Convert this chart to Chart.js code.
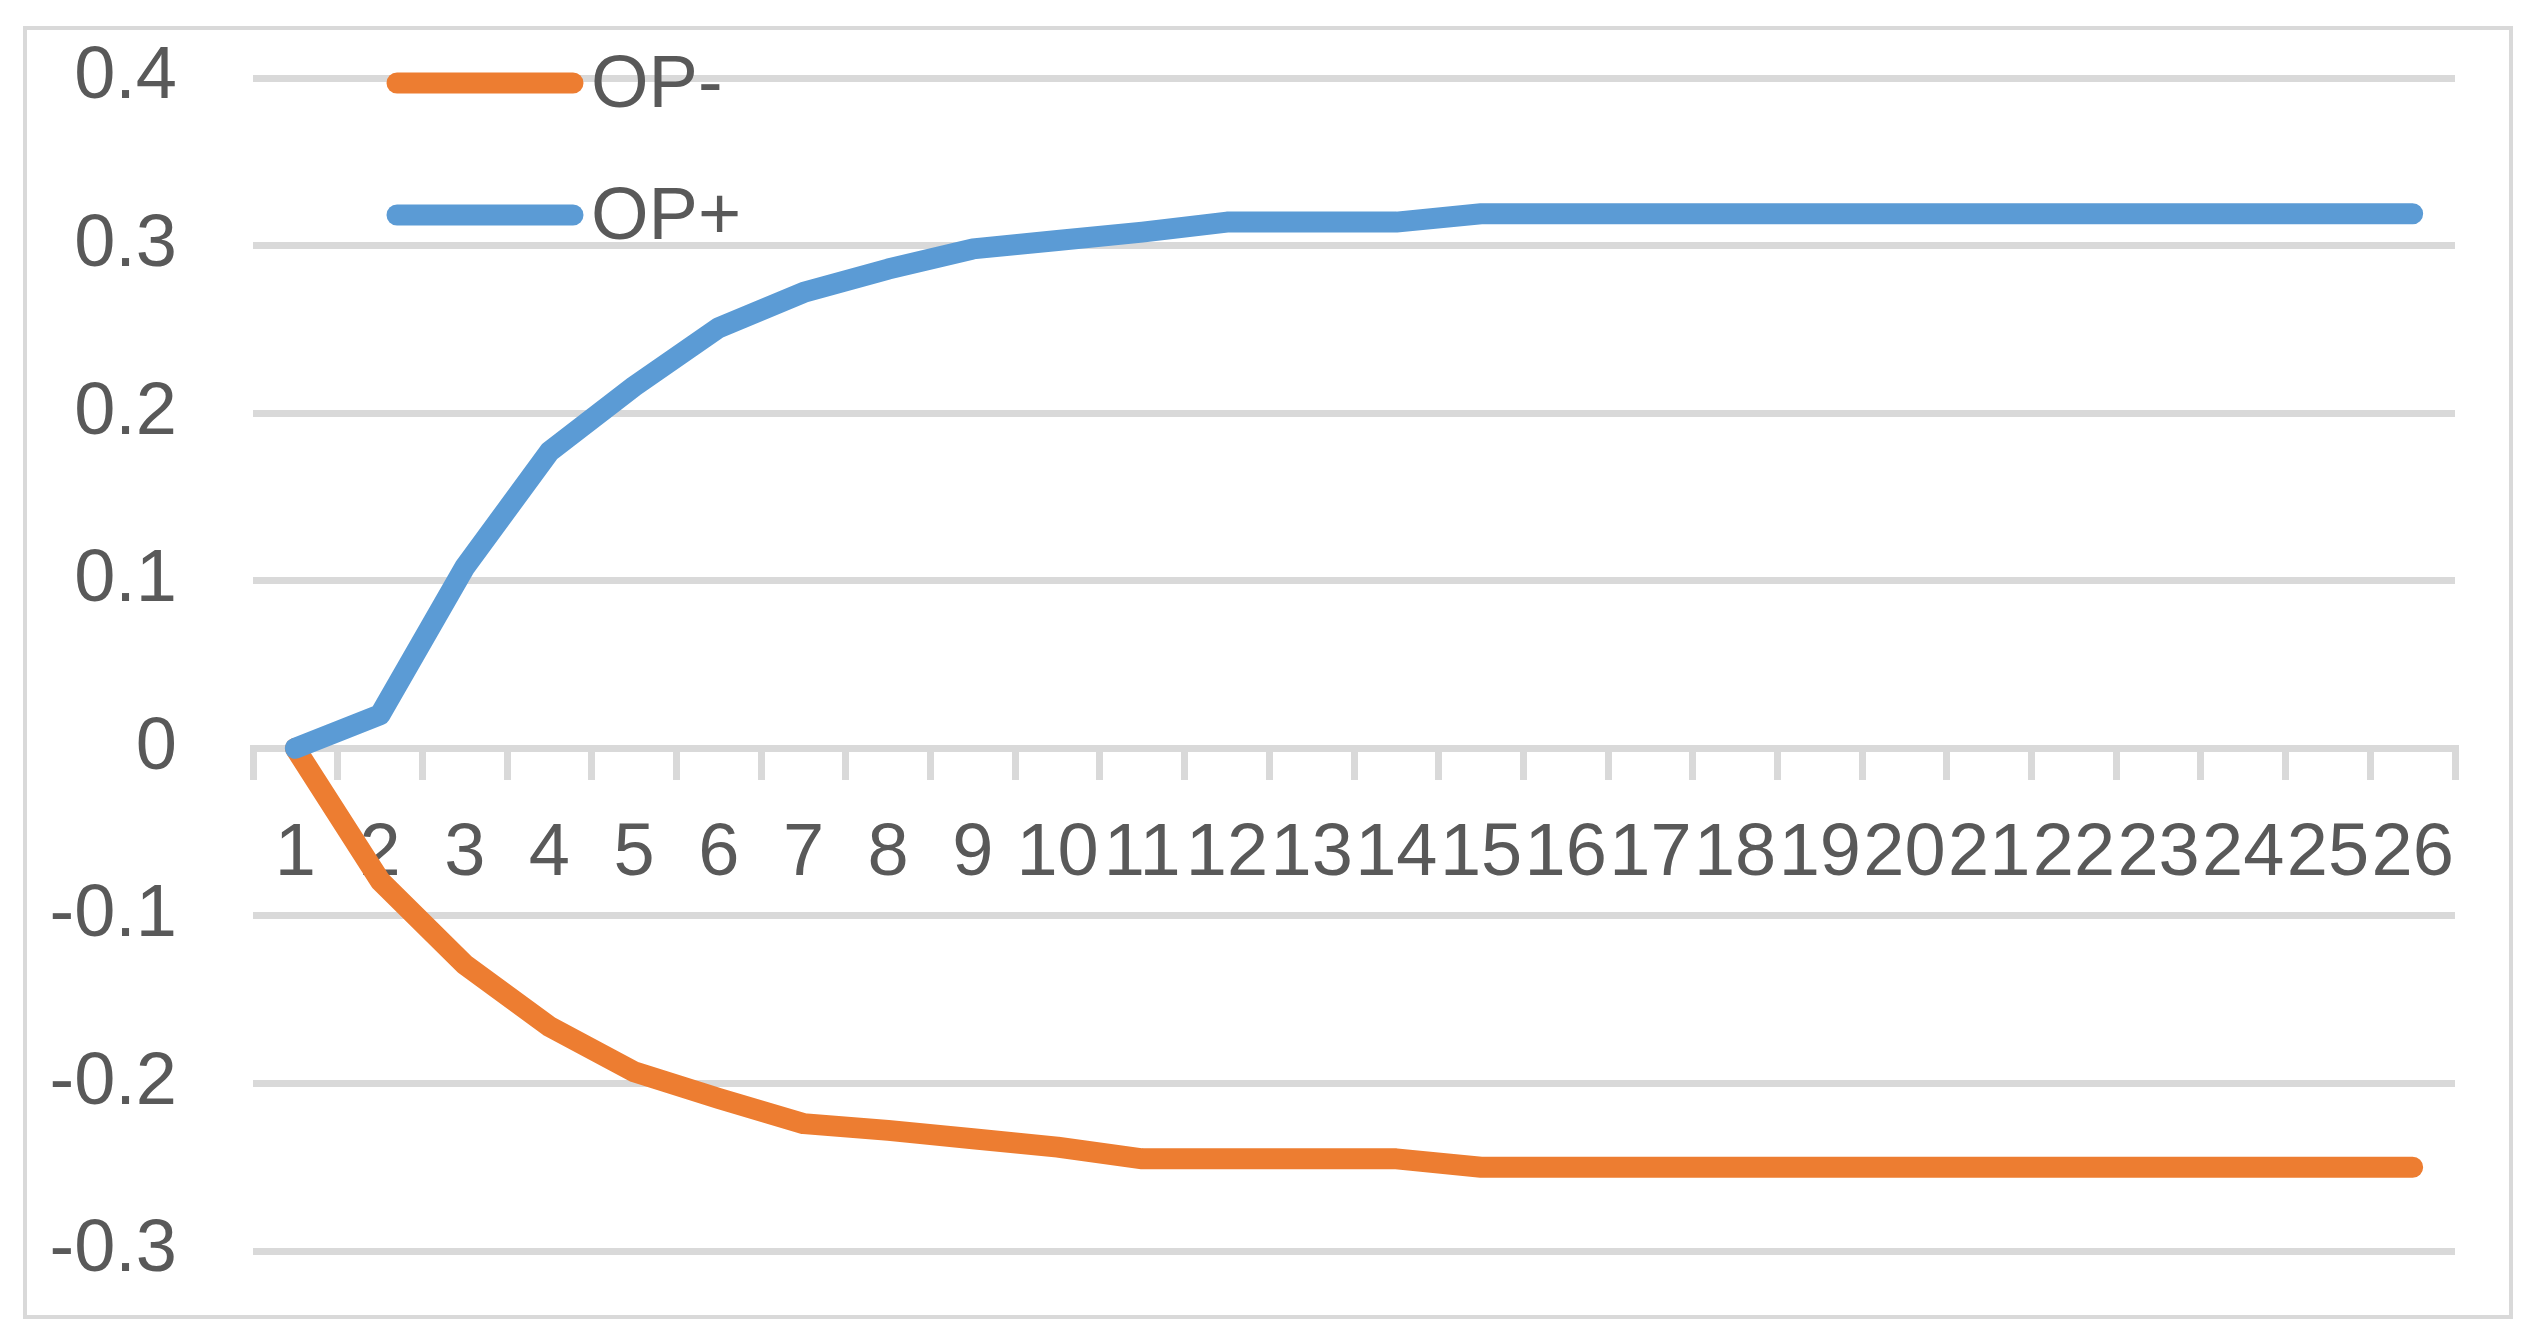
<!DOCTYPE html>
<html>
<head>
<meta charset="utf-8">
<script src="https://cdn.jsdelivr.net/npm/chart.js"></script>
<style>
  body { margin: 0; background: #fff; }
  #frame { position: absolute; left: 23px; top: 26px; width: 2490px; height: 1293px; box-sizing: border-box; border: 4px solid #d9d9d9; }
  #chart { position: absolute; left: 0; top: 0; }
</style>
</head>
<body>
<div id="frame"></div>
<canvas id="chart" width="2538" height="1332"></canvas>
<script>
// data
var labels = ['1', '2', '3', '4', '5', '6', '7', '8', '9', '10', '11', '12', '13',
              '14', '15', '16', '17', '18', '19', '20', '21', '22', '23', '24', '25', '26'];
var opMinus = [0, -0.079, -0.129, -0.166, -0.193, -0.209, -0.224, -0.228, -0.233, -0.238,
               -0.245, -0.245, -0.245, -0.245, -0.25, -0.25, -0.25, -0.25, -0.25, -0.25,
               -0.25, -0.25, -0.25, -0.25, -0.25, -0.25];
var opPlus = [0, 0.02, 0.108, 0.177, 0.216, 0.251, 0.272, 0.286, 0.298, 0.303,
              0.308, 0.314, 0.314, 0.314, 0.319, 0.319, 0.319, 0.319, 0.319, 0.319,
              0.319, 0.319, 0.319, 0.319, 0.319, 0.319];
var yTicks = [-0.3, -0.2, -0.1, 0, 0.1, 0.2, 0.3, 0.4];

var FONT = "'Liberation Sans', Arial, sans-serif";
var TEXT = '#595959';
var GRID = '#d9d9d9';

// legend drawn inside the plot, top left, like the Excel one
var insideLegend = {
    id: 'insideLegend',
    afterDraw: function (chart) {
        var ctx = chart.ctx;
        ctx.save();
        ctx.font = '74px ' + FONT;
        ctx.fillStyle = TEXT;
        ctx.textBaseline = 'alphabetic';
        chart.data.datasets.forEach(function (ds, i) {
            var y = 83 + i * 132;
            ctx.strokeStyle = ds.borderColor;
            ctx.lineWidth = ds.borderWidth;
            ctx.lineCap = 'round';
            ctx.beginPath();
            ctx.moveTo(397, y);
            ctx.lineTo(573, y);
            ctx.stroke();
            ctx.fillText(ds.label, 591, y + 24);
        });
        ctx.restore();
    }
};

var ctx = document.getElementById('chart').getContext('2d');
var chart = new Chart(ctx, {
    type: 'line',
    data: {
        labels: labels,
        datasets: [{
            label: 'OP-',
            data: opMinus,
            borderColor: '#ED7D31',
            borderWidth: 21,
            borderCapStyle: 'round',
            borderJoinStyle: 'round',
            pointRadius: 0,
            tension: 0,
            fill: false,
            order: 1
        }, {
            label: 'OP+',
            data: opPlus,
            borderColor: '#5B9BD5',
            borderWidth: 21,
            borderCapStyle: 'round',
            borderJoinStyle: 'round',
            pointRadius: 0,
            tension: 0,
            fill: false,
            order: 0
        }]
    },
    options: {
        responsive: false,
        devicePixelRatio: 1,
        animation: false,
        layout: { padding: { left: 0, right: 83, top: 78, bottom: 81 } },
        plugins: { legend: { display: false }, tooltip: { enabled: false } },
        scales: {
            x: {
                position: { y: 0 },
                offset: true,
                grid: {
                    offset: true, drawOnChartArea: false, drawTicks: true,
                    tickLength: 28, tickWidth: 7, tickColor: GRID, color: GRID, lineWidth: 7
                },
                border: { display: true, color: GRID, width: 7 },
                ticks: {
                    autoSkip: false, maxRotation: 0, minRotation: 0, padding: 34,
                    color: TEXT, font: { family: FONT, size: 74 }
                }
            },
            y: {
                min: yTicks[0],
                max: yTicks[yTicks.length - 1],
                afterFit: function (s) {
                    s.width = 253;
                    s.paddingTop = 0;
                    s.paddingBottom = 0;
                },
                afterBuildTicks: function (s) {
                    s.ticks = yTicks.map(function (v) { return { value: v }; });
                },
                border: { display: false },
                grid: { color: GRID, lineWidth: 7, drawTicks: false },
                ticks: {
                    padding: 76, color: TEXT, font: { family: FONT, size: 74 },
                    callback: function (v) { return String(Math.round(v * 10) / 10); }
                }
            }
        }
    },
    plugins: [insideLegend]
});
</script>
</body>
</html>
